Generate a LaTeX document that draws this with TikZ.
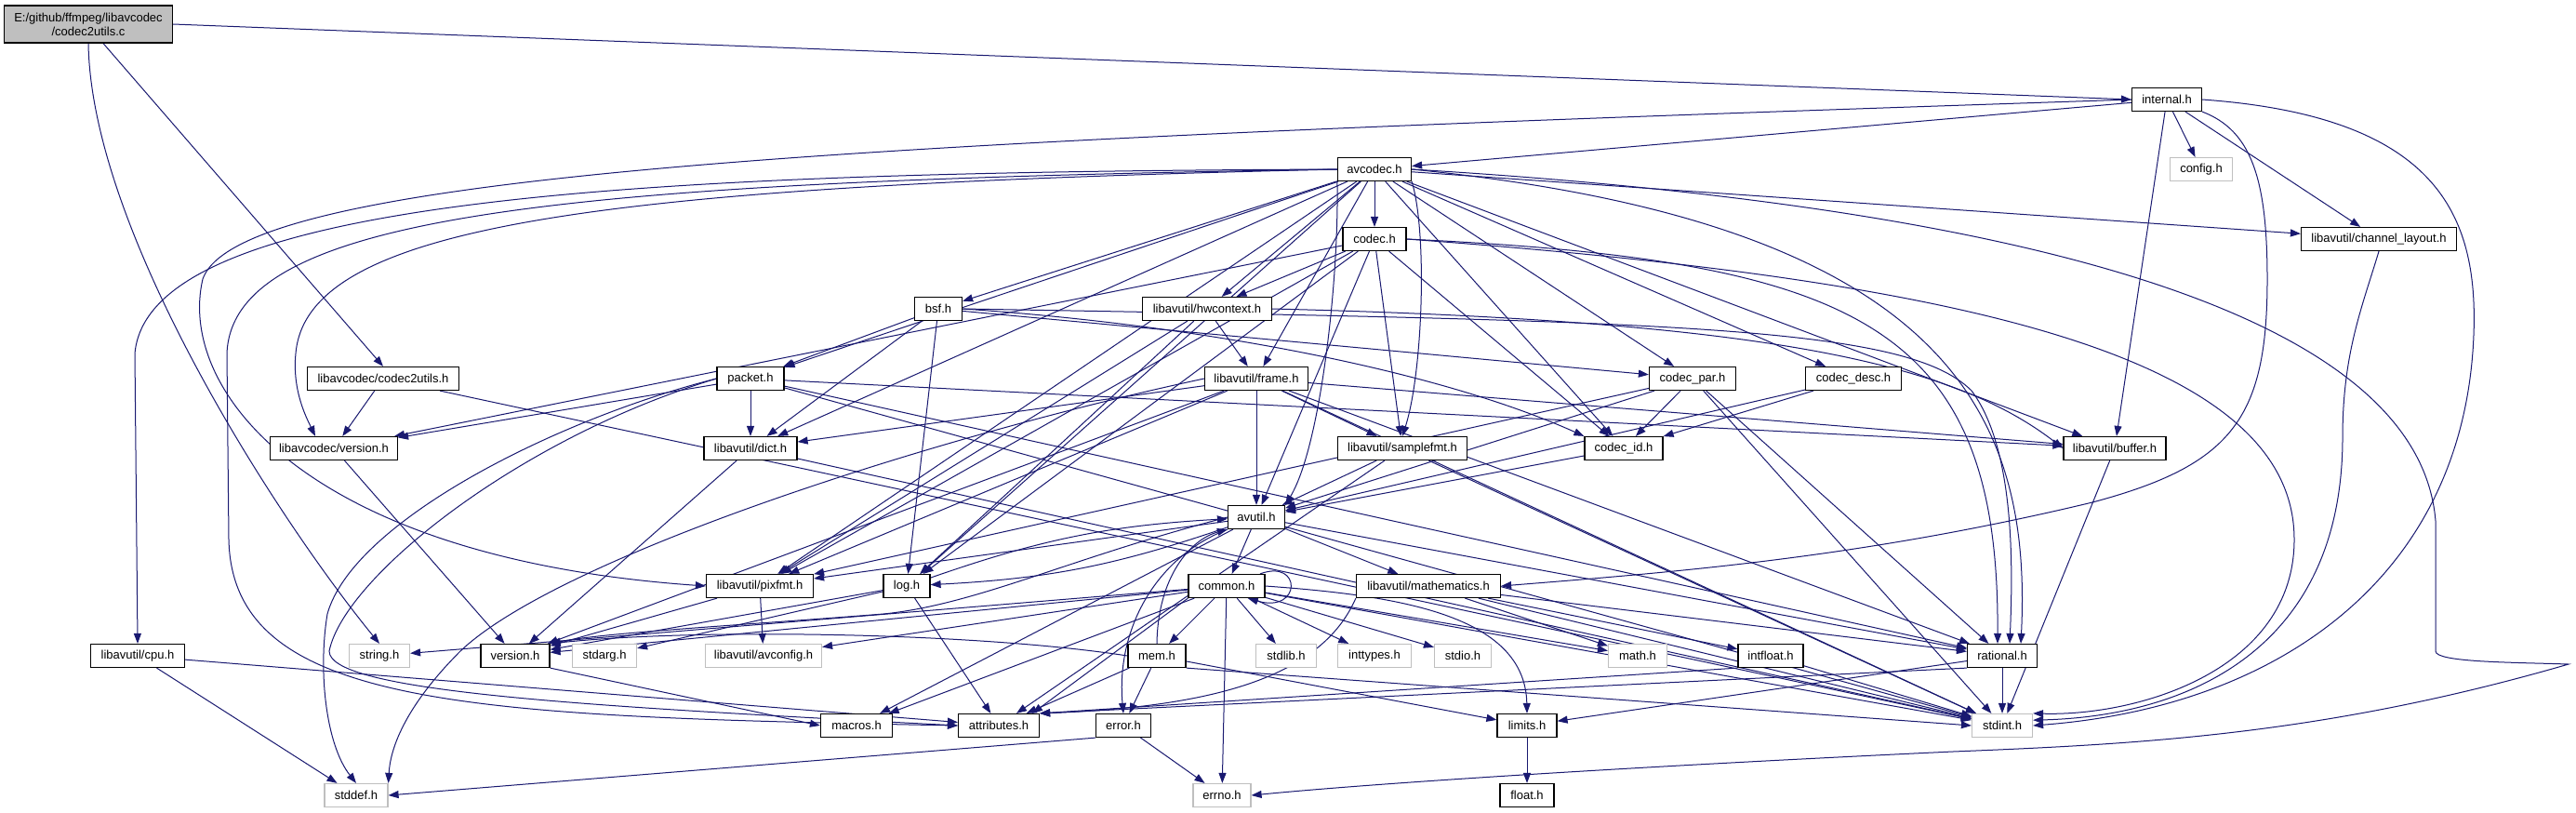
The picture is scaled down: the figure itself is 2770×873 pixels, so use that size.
\documentclass[tikz,border=0pt]{standalone}
\usepackage{fontspec}
\setmainfont{Liberation Sans}
\usetikzlibrary{arrows.meta}
\definecolor{edgeblue}{RGB}{25,25,112}
\definecolor{sysgray}{RGB}{191,191,191}
\newcommand{\hdrfont}{\fontsize{13}{15}\selectfont}
\pgfdeclarelayer{edges}
\pgfsetlayers{edges,main}

\begin{document}
\begin{tikzpicture}[x=1pt,y=-1pt,
  hdr/.style={draw=black,line width=1.2pt,fill=white,minimum height=25pt,inner sep=0pt,font=\hdrfont},
  syshdr/.style={hdr,draw=sysgray},
  srcfile/.style={hdr,fill=sysgray,align=center,minimum height=40pt},
  dep/.style={draw=edgeblue,line width=1pt,-{Triangle[length=11pt,width=8pt]}}]
  \useasboundingbox (0,0) rectangle (2770,873);
  \node[srcfile,minimum width=181pt] (cc) at (95,26) {E:/github/ffmpeg/libavcodec\\/codec2utils.c};
  \node[hdr,minimum width=75pt] (internal) at (2330,107) {internal.h};
  \node[hdr,minimum width=79pt] (avcodec) at (1478,182) {avcodec.h};
  \node[syshdr,minimum width=67pt] (config) at (2367,182) {config.h};
  \node[hdr,minimum width=68pt] (codec) at (1478,257) {codec.h};
  \node[hdr,minimum width=167pt] (chlayout) at (2558,257) {libavutil/channel\_layout.h};
  \node[hdr,minimum width=51pt] (bsf) at (1009,332) {bsf.h};
  \node[hdr,minimum width=139pt] (hwctx) at (1298,332) {libavutil/hwcontext.h};
  \node[hdr,minimum width=163pt] (c2uh) at (412,407) {libavcodec/codec2utils.h};
  \node[hdr,minimum width=72pt] (packet) at (807,407) {packet.h};
  \node[hdr,minimum width=111pt] (frame) at (1351,407) {libavutil/frame.h};
  \node[hdr,minimum width=93pt] (cpar) at (1820,407) {codec\_par.h};
  \node[hdr,minimum width=103pt] (cdesc) at (1993,407) {codec\_desc.h};
  \node[hdr,minimum width=137pt] (lcver) at (359,482) {libavcodec/version.h};
  \node[hdr,minimum width=100pt] (dict) at (807,482) {libavutil/dict.h};
  \node[hdr,minimum width=139pt] (sfmt) at (1508,482) {libavutil/samplefmt.h};
  \node[hdr,minimum width=84pt] (cid) at (1746,482) {codec\_id.h};
  \node[hdr,minimum width=110pt] (buffer) at (2274,482) {libavutil/buffer.h};
  \node[hdr,minimum width=61pt] (avutil) at (1351,556) {avutil.h};
  \node[hdr,minimum width=115pt] (pixfmt) at (817,630) {libavutil/pixfmt.h};
  \node[hdr,minimum width=50pt] (log) at (975,630) {log.h};
  \node[hdr,minimum width=82pt] (common) at (1319,630) {common.h};
  \node[hdr,minimum width=155pt] (mathem) at (1536,630) {libavutil/mathematics.h};
  \node[hdr,minimum width=101pt] (cpu) at (148,705) {libavutil/cpu.h};
  \node[syshdr,minimum width=65pt] (string) at (408,705) {string.h};
  \node[hdr,minimum width=74pt] (version) at (554,705) {version.h};
  \node[syshdr,minimum width=69pt] (stdarg) at (650,705) {stdarg.h};
  \node[syshdr,minimum width=125pt] (avconfig) at (821,705) {libavutil/avconfig.h};
  \node[hdr,minimum width=62pt] (mem) at (1244,705) {mem.h};
  \node[syshdr,minimum width=65pt] (stdlib) at (1383,705) {stdlib.h};
  \node[syshdr,minimum width=79pt] (inttypes) at (1478,705) {inttypes.h};
  \node[syshdr,minimum width=61pt] (stdio) at (1573,705) {stdio.h};
  \node[syshdr,minimum width=63pt] (math) at (1761,705) {math.h};
  \node[hdr,minimum width=70pt] (intfloat) at (1904,705) {intfloat.h};
  \node[hdr,minimum width=75pt] (rational) at (2153,705) {rational.h};
  \node[hdr,minimum width=77pt] (macros) at (921,780) {macros.h};
  \node[hdr,minimum width=87pt] (attributes) at (1074,780) {attributes.h};
  \node[hdr,minimum width=59pt] (error) at (1208,780) {error.h};
  \node[hdr,minimum width=64pt] (limits) at (1642,780) {limits.h};
  \node[syshdr,minimum width=65pt] (stdint) at (2153,780) {stdint.h};
  \node[syshdr,minimum width=68pt] (stddef) at (383,855) {stddef.h};
  \node[syshdr,minimum width=62pt] (errno) at (1314,855) {errno.h};
  \node[hdr,minimum width=58pt] (float) at (1642,855) {float.h};
  \begin{pgfonlayer}{edges}
  \fill[white] (0,0) rectangle (2770,873);
  \draw[dep] (cc.east) -- (internal.west);
  \draw[dep] ([xshift=16pt]cc.south) -- (c2uh.north);
  \draw[dep] (cc.south) .. controls (98,250) and (300,560) .. (string.north);
  \draw[dep] (c2uh) -- (lcver);
  \draw[dep] (c2uh) -- (stdint);
  \draw[dep] (internal) -- (avcodec);
  \draw[dep] (internal) -- (config);
  \draw[dep] (internal) -- (chlayout);
  \draw[dep] (internal) -- (buffer);
  \draw[dep] (internal.west) .. controls (1000,150) and (260,180) .. (218,300) .. controls (190,420) and (330,600) .. (pixfmt.west);
  \draw[dep] (internal.south east) .. controls (2420,140) and (2438,190) .. (2438,300) .. controls (2438,450) and (2400,500) .. (2250,540) .. controls (2000,600) and (1800,615) .. (mathem.east);
  \draw[dep] (internal.east) .. controls (2620,125) and (2665,230) .. (2660,360) .. controls (2650,620) and (2450,760) .. (stdint.east);
  \draw[dep] (avcodec) -- (codec);
  \draw[dep] (avcodec) -- (bsf);
  \draw[dep] (avcodec) -- (packet);
  \draw[dep] (avcodec) -- (hwctx);
  \draw[dep] (avcodec) -- (frame);
  \draw[dep] (avcodec) -- (dict);
  \draw[dep] (avcodec.south east) .. controls (1535,250) and (1530,400) .. (sfmt.north);
  \draw[dep] (avcodec) -- (cpar);
  \draw[dep] (avcodec) -- (cdesc);
  \draw[dep] (avcodec) -- (cid);
  \draw[dep] (avcodec) -- (buffer);
  \draw[dep] (avcodec) -- (chlayout);
  \draw[dep] (avcodec.south west) .. controls (1440,300) and (1420,480) .. (avutil.north east);
  \draw[dep] (avcodec) -- (log);
  \draw[dep] (avcodec) -- (pixfmt);
  \draw[dep] (avcodec.east) .. controls (2100,240) and (2185,450) .. ([xshift=20pt]rational.north);
  \draw[dep] (avcodec.west) .. controls (700,185) and (160,210) .. (145,380) -- (cpu.north);
  \draw[dep] (avcodec.west) .. controls (650,200) and (330,240) .. (318,380) .. controls (314,420) and (330,450) .. ([xshift=-20pt]lcver.north);
  \draw[dep] (avcodec.west) .. controls (600,195) and (250,230) .. (244,380) -- (246,580) .. controls (250,760) and (500,770) .. (attributes.west);
  \draw[dep] (avcodec.east) .. controls (2150,220) and (2600,330) .. (2619,560) -- (2619,700) .. controls (2619,712) and (2700,712) .. (2762,714) .. controls (2500,790) and (2300,800) .. (2100,808) .. controls (1800,822) and (1500,840) .. (errno.east);
  \draw[dep] (codec.east) .. controls (2100,300) and (2467,380) .. (2467,580) .. controls (2467,720) and (2300,770) .. (stdint.north east);
  \draw[dep] (codec) -- (avutil);
  \draw[dep] (codec) -- (hwctx);
  \draw[dep] (codec) -- (log);
  \draw[dep] (codec) -- (pixfmt);
  \draw[dep] (codec.east) .. controls (2000,280) and (2150,350) .. ([xshift=-5pt]rational.north);
  \draw[dep] (codec) -- (sfmt);
  \draw[dep] (codec) -- (cid);
  \draw[dep] (codec) -- (lcver);
  \draw[dep] (bsf) -- (dict);
  \draw[dep] (bsf) -- (log);
  \draw[dep] (bsf.east) .. controls (1800,345) and (2050,350) .. (2120,420) .. controls (2165,480) and (2165,600) .. ([xshift=8pt]rational.north);
  \draw[dep] (bsf.east) .. controls (1300,350) and (1550,400) .. (cid.north west);
  \draw[dep] (bsf) -- (cpar);
  \draw[dep] (bsf) -- (packet);
  \draw[dep] (packet.west) .. controls (600,450) and (380,560) .. (352,660) .. controls (342,720) and (350,800) .. (stddef.north);
  \draw[dep] (packet) -- (stdint);
  \draw[dep] (packet.west) .. controls (560,470) and (370,620) .. (354,700) .. controls (354,745) and (650,760) .. (attributes.west);
  \draw[dep] (packet) -- (buffer);
  \draw[dep] (packet) -- (dict);
  \draw[dep] (packet) -- (rational);
  \draw[dep] (packet) -- (lcver);
  \draw[dep] (hwctx.east) .. controls (1900,345) and (2100,390) .. (buffer.west);
  \draw[dep] (hwctx) -- (frame);
  \draw[dep] (hwctx) -- (log);
  \draw[dep] (hwctx) -- (pixfmt);
  \draw[dep] (frame.west) .. controls (1000,470) and (600,600) .. (495,700) .. controls (440,755) and (420,800) .. (stddef.north east);
  \draw[dep] (frame) -- (stdint);
  \draw[dep] (frame) -- (avutil);
  \draw[dep] (frame) -- (buffer);
  \draw[dep] (frame) -- (dict);
  \draw[dep] (frame) -- (rational);
  \draw[dep] (frame) -- (sfmt);
  \draw[dep] (frame) -- (pixfmt);
  \draw[dep] (frame) -- (version);
  \draw[dep] (cpar) -- (stdint);
  \draw[dep] (cpar) -- (avutil);
  \draw[dep] (cpar) -- (rational);
  \draw[dep] (cpar) -- (pixfmt);
  \draw[dep] (cpar) -- (cid);
  \draw[dep] (cdesc) -- (avutil);
  \draw[dep] (cdesc) -- (cid);
  \draw[dep] (cid) -- (avutil);
  \draw[dep] (dict) -- (stdint);
  \draw[dep] (dict) -- (version);
  \draw[dep] (sfmt) -- (stdint);
  \draw[dep] (sfmt) -- (avutil);
  \draw[dep] (sfmt) -- (attributes);
  \draw[dep] (buffer) -- (stdint);
  \draw[dep] (chlayout.south) .. controls (2540,330) and (2519,380) .. (2519,470) .. controls (2519,700) and (2350,770) .. (stdint.10);
  \draw[dep] (lcver) -- (version);
  \draw[dep] (avutil) -- (common);
  \draw[dep] (avutil.south west) .. controls (1240,600) and (1200,680) .. (error.north);
  \draw[dep] (avutil) -- (rational);
  \draw[dep] (avutil.west) .. controls (1150,600) and (1050,650) .. (950,660) .. controls (800,672) and (650,680) .. (version.north east);
  \draw[dep] (avutil) -- (macros);
  \draw[dep] (avutil) -- (mathem);
  \draw[dep] (avutil) to[bend left=8] (log);
  \draw[dep] (avutil) -- (pixfmt);
  \draw[dep] (log) to[bend left=8] (avutil);
  \draw[dep] (log) -- (attributes);
  \draw[dep] (log) -- (version);
  \draw[dep] (log) -- (stdarg);
  \draw[dep] (pixfmt) -- (avconfig);
  \draw[dep] (pixfmt) -- (version);
  \draw[dep] (common) -- (errno);
  \draw[dep] (common) -- (inttypes);
  \draw[dep] (common.east) .. controls (1500,640) and (1640,660) .. (limits.north);
  \draw[dep] (common) -- (math);
  \draw[dep] (common) -- (stdint);
  \draw[dep] (common) -- (stdio);
  \draw[dep] (common) -- (stdlib);
  \draw[dep] (common) -- (string);
  \draw[dep] (common.south west) -- ([xshift=-8pt]attributes.north east);
  \draw[dep] (common) -- (macros);
  \draw[dep] (common) -- (version);
  \draw[dep] (common) -- (avconfig);
  \draw[dep] (common) -- (mem);
  \draw[dep] (common.20) .. controls (1400,600) and (1400,660) .. (common.-30);
  \draw[dep] (mem) -- (limits);
  \draw[dep] (mem.south east) -- (stdint.west);
  \draw[dep] (mem) -- (attributes);
  \draw[dep] (mem) -- (error);
  \draw[dep] (mem.north) .. controls (1245,620) and (1280,580) .. (avutil.south west);
  \draw[dep] (mem.west) .. controls (1050,680) and (750,675) .. (version.north east);
  \draw[dep] (version.south east) -- (macros.west);
  \draw[dep] (error) -- (errno);
  \draw[dep] (error.south west) -- (stddef.east);
  \draw[dep] (mathem) -- (stdint);
  \draw[dep] (mathem) -- (math);
  \draw[dep] (mathem.south west) .. controls (1420,730) and (1300,760) .. (attributes.north east);
  \draw[dep] (mathem) -- (rational);
  \draw[dep] (mathem) -- (intfloat);
  \draw[dep] (intfloat) -- (stdint);
  \draw[dep] (intfloat.south west) -- (attributes.north east);
  \draw[dep] (rational) -- (stdint);
  \draw[dep] (rational) -- (limits);
  \draw[dep] (rational.south west) -- (attributes.north east);
  \draw[dep] (limits) -- (float);
  \draw[dep] (cpu) -- (stddef);
  \draw[dep] (cpu) -- (attributes);
  \end{pgfonlayer}
\end{tikzpicture}
\end{document}
